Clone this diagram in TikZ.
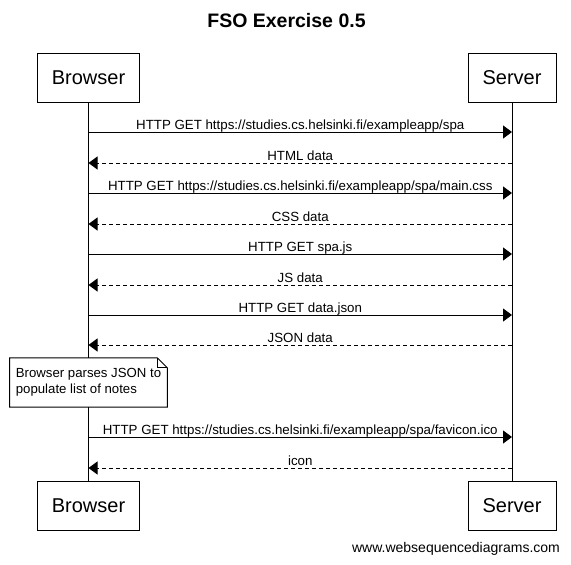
\documentclass[tikz,border=0pt]{standalone}
\usepackage{fontspec}
\setmainfont{Liberation Sans}
\usetikzlibrary{arrows.meta}
\begin{document}
\begin{tikzpicture}[x=1pt,y=-1pt,
  actor/.style={draw=black, line width=1pt, fill=white, minimum height=49pt, inner sep=0pt, font=\fontsize{20}{24}\selectfont},
  lifeline/.style={line width=1pt},
  req/.style={line width=1pt, -{Triangle[length=9pt,width=13pt]}},
  resp/.style={line width=1pt, dash pattern=on 4pt off 3pt, -{Triangle[length=9pt,width=13pt]}},
  msglabel/.style={font=\fontsize{13.3}{15}\selectfont, anchor=base, yshift=3pt, inner sep=0pt},
  notebox/.style={font=\fontsize{13.2}{16}\selectfont, align=left, inner xsep=6pt, minimum width=157pt, minimum height=49pt, anchor=center}
]
\useasboundingbox[fill=white] (0,0) rectangle (571,565);
\node[font=\bfseries\fontsize{19.5}{22}\selectfont] (title) at (286.5,21) {FSO Exercise 0.5};

\node[actor, minimum width=102pt] (bt) at (88.5,77.5) {Browser};
\node[actor, minimum width=88pt] (st) at (512,77.5) {Server};
\node[actor, minimum width=102pt] (bb) at (88.5,505.5) {Browser};
\node[actor, minimum width=88pt] (sb) at (512,505.5) {Server};
\draw[lifeline] (bt) -- (bb);
\draw[lifeline] (st) -- (sb);

\foreach \i/\y in {1/132,2/163,3/193,4/224,5/254,6/285,7/315,8/345,9/437,10/468}{
  \coordinate (b\i) at (bt.south |- 0,\y);
  \coordinate (s\i) at (st.south |- 0,\y);
}

\draw[req]  (b1) -- node[msglabel]{HTTP GET https://studies.cs.helsinki.fi/exampleapp/spa} (s1);
\draw[resp] (s2) -- node[msglabel]{HTML data} (b2);
\draw[req]  (b3) -- node[msglabel]{HTTP GET https://studies.cs.helsinki.fi/exampleapp/spa/main.css} (s3);
\draw[resp] (s4) -- node[msglabel]{CSS data} (b4);
\draw[req]  (b5) -- node[msglabel]{HTTP GET spa.js} (s5);
\draw[resp] (s6) -- node[msglabel]{JS data} (b6);
\draw[req]  (b7) -- node[msglabel]{HTTP GET data.json} (s7);
\draw[resp] (s8) -- node[msglabel]{JSON data} (b8);

\node[notebox, fill=white] (note) at (88.5,382.5) {Browser parses JSON to\\populate list of notes};
\draw[line width=1pt] (note.north west) -- ([xshift=-10pt]note.north east) -- ([yshift=-10pt]note.north east) -- (note.south east) -- (note.south west) -- cycle;
\draw[line width=0.8pt] ([xshift=-10pt]note.north east) -- ([xshift=-10pt,yshift=-10pt]note.north east) -- ([yshift=-10pt]note.north east);

\draw[req]  (b9) -- node[msglabel]{HTTP GET https://studies.cs.helsinki.fi/exampleapp/spa/favicon.ico} (s9);
\draw[resp] (s10) -- node[msglabel]{icon} (b10);

\node[font=\fontsize{14}{16}\selectfont] (wm) at (456,549) {www.websequencediagrams.com};
\end{tikzpicture}
\end{document}
